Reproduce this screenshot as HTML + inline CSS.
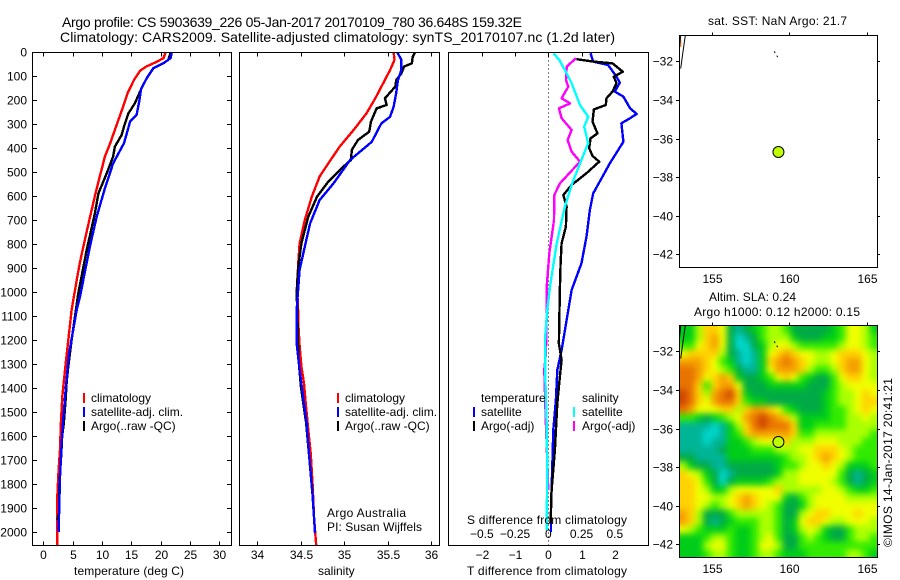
<!DOCTYPE html>
<html>
<head>
<meta charset="utf-8">
<title>Argo profile</title>
<style>
html,body{margin:0;padding:0;background:#fff;width:900px;height:580px;overflow:hidden}
svg{display:block}
text{font-family:"Liberation Sans",sans-serif;font-size:12px;fill:#000}
.title{font-size:14px}
</style>
</head>
<body>
<svg id="chart" xmlns="http://www.w3.org/2000/svg" width="900" height="580" viewBox="0 0 900 580">
  <defs>
    <clipPath id="clipT"><rect x="33" y="52" width="198" height="493"/></clipPath>
    <clipPath id="clipS"><rect x="240" y="52" width="199" height="493"/></clipPath>
    <clipPath id="clipD"><rect x="449" y="52" width="199" height="493"/></clipPath>
    <clipPath id="clipM1"><rect x="679.5" y="35.5" width="198" height="232"/></clipPath>
    <clipPath id="clipM2"><rect x="679.5" y="325.5" width="198" height="232"/></clipPath>
    <filter id="smooth" filterUnits="userSpaceOnUse" x="640" y="290" width="260" height="300" color-interpolation-filters="sRGB"><feGaussianBlur stdDeviation="3.2"/></filter>
  </defs>
  <text class="title" x="62" y="27" textLength="460">Argo profile: CS 5903639_226 05-Jan-2017 20170109_780 36.648S 159.32E</text>
  <text class="title" x="60" y="42" textLength="555">Climatology: CARS2009. Satellite-adjusted climatology: synTS_20170107.nc (1.2d later)</text>

  <g id="panelT"></g>
  <g id="panelS"></g>
  <g id="panelD"></g>
  <g id="map1"></g>
  <g id="map2"></g>

  <text x="74" y="575" textLength="110">temperature (deg C)</text>
  <text x="318" y="575">salinity</text>
  <text x="467" y="575" textLength="160">T difference from climatology</text>
  <text x="467" y="524" textLength="160">S difference from climatology</text>

  <text x="327" y="517" textLength="79">Argo Australia</text>
  <text x="327" y="531" textLength="95">PI: Susan Wijffels</text>

  <text x="708" y="25" textLength="139">sat. SST: NaN Argo: 21.7</text>
  <text x="709" y="301" textLength="87">Altim. SLA: 0.24</text>
  <text x="694" y="316" textLength="166">Argo h1000: 0.12 h2000: 0.15</text>
  <text transform="translate(892,547) rotate(-90)" textLength="169">©IMOS 14-Jan-2017 20:41:21</text>
</svg>
<script>
// ---------- tick labels ----------
var depthTicks = [0,100,200,300,400,500,600,700,800,900,1000,1100,1200,1300,1400,1500,1600,1700,1800,1900,2000];
var tempTicks = [0,5,10,15,20,25,30];
var salTicks = [34,34.5,35,35.5,36];
var diffTTicks = [-2,-1,0,1,2];
var diffSTicks = [-0.5,-0.25,0,0.25,0.5];
var lonTicks = [155,160,165];
var latTicks = [-32,-34,-36,-38,-40,-42];

// ---------- temperature profiles ----------
var climTempDepth = [0,25,40,60,78,115,170,228,304,380,436,512,600,690,780,875,950,992,1075,1200,1325,1436,1547,1658,1742,1853,2055];
var climTempValue = [20.85,20.5,19.4,17.6,16.5,15.5,14.4,13.6,12.5,11.4,10.5,9.7,8.8,7.95,7.1,6.25,5.7,5.4,4.83,4.26,3.7,3.24,3.0,2.84,2.6,2.39,2.39];
var satTempDepth = [0,26,47,68,110,155,200,262,290,380,464,568,686,811,1019,1075,1172,1255,1394,1533,1644,1769,2000];
var satTempValue = [21.9,21.7,20.45,18.75,17.6,16.65,16.4,15.9,14.8,13.75,11.9,10.5,9.1,7.95,6.25,5.7,5.0,4.4,3.86,3.4,3.1,2.84,2.6];
var argoTempDepth = [0,33,47,68,110,151,214,256,311,346,394,436,506,589,672,825,1005,1075,1200,1310,1367,1450,1547,1603,1658,1825,1922,1950];
var argoTempValue = [21.75,21.3,20.45,18.75,17.6,16.75,15.6,14.5,13.75,13.35,12.2,11.9,10.8,9.4,8.8,7.4,5.97,5.55,4.83,4.26,4.0,3.8,3.5,3.2,3.1,2.7,2.7,2.4];

// ---------- salinity profiles ----------
var climSalDepth = [0,33,75,130,193,255,325,394,464,519,603,700,797,880,1005,1033,1130,1225,1310,1380,1464,1575,1672,1811,1936,2055];
var climSalValue = [35.57,35.58,35.53,35.45,35.36,35.26,35.11,34.95,34.82,34.72,34.63,34.55,34.49,34.475,34.455,34.47,34.475,34.49,34.51,34.54,34.56,34.59,34.617,34.64,34.655,34.68];
var satSalDepth = [0,33,75,117,172,228,270,297,374,450,547,617,714,811,908,1019,1075,1214,1325,1436,1547,1686,1853,2005];
var satSalValue = [35.61,35.66,35.66,35.62,35.6,35.57,35.53,35.43,35.32,35.07,34.88,34.72,34.61,34.55,34.49,34.467,34.456,34.456,34.49,34.53,34.57,34.6,34.64,34.667];
var argoSalDepth = [0,19,47,61,89,117,144,193,221,235,290,332,367,408,450,485,540,603,686,797,894,1005,1117,1267,1394,1547,1686,1825,1908];
var argoSalValue = [35.82,35.79,35.78,35.69,35.66,35.6,35.59,35.47,35.49,35.375,35.31,35.29,35.16,35.09,35.08,34.97,34.82,34.69,34.59,34.51,34.475,34.456,34.465,34.475,34.505,34.565,34.6,34.635,34.65];

// ---------- difference profiles ----------
var satDTDepth = [5,40,54,103,128,165,186,235,258,276,297,374,464,589,658,769,880,992,1117,1242,1325,1450,1575,1728,1894,1999];
var satDTValue = [1.27,1.35,1.8,2.05,2.15,2.0,2.26,2.46,2.66,2.46,2.2,2.26,1.85,1.35,1.25,1.15,1.0,0.7,0.55,0.4,0.27,0.23,0.15,0.12,0.08,0.08];
var argoDTDepth = [30,40,47,82,103,130,165,193,221,239,290,339,360,401,433,457,505,554,596,644,728,797,880,985,1117,1214,1283,1394,1464,1658,1825,1964];
var argoDTValue = [0.85,1.35,1.93,2.24,1.97,2.05,1.93,1.75,1.73,1.37,1.33,1.48,1.27,1.23,1.33,1.53,1.15,0.7,0.45,0.55,0.53,0.4,0.37,0.35,0.33,0.32,0.4,0.32,0.27,0.2,0.1,0.07];
var satDSDepth = [5,33,89,130,221,270,311,380,464,554,644,797,978,1075,1200,1367,1547,1742,1992];
var satDSValue = [0.038,0.083,0.138,0.175,0.238,0.3,0.27,0.3,0.238,0.175,0.125,0.063,0.0125,-0.008,-0.025,-0.022,-0.0125,-0.0075,-0.0125];
var argoDSDepth = [26,61,117,144,193,214,235,276,325,367,415,457,547,596,700,839,985,1117,1255,1325,1547,1825];
var argoDSValue = [0.208,0.138,0.133,0.15,0.1,0.163,0.08,0.1,0.175,0.145,0.175,0.238,0.088,0.045,0.043,0.0075,-0.0125,-0.0125,-0.018,-0.03,-0.018,0];

// ---------- sea level anomaly grid (colour level, north to south) ----------
var slaGrid = [
[3,3,5,7,7,6,2,1,2,3,4,5,5,4,2,2,2,2,2,3,4,6,6,5,3],
[3,3,5,7,8,6,2,0,1,2,4,5,5,5,3,2,2,2,3,3,4,6,6,5,4],
[4,4,6,7,8,6,2,0,0,2,3,5,6,6,5,4,4,4,4,4,5,6,6,5,4],
[6,7,7,7,7,5,2,1,0,1,3,6,7,8,7,6,6,5,5,6,7,7,7,6,5],
[8,8,8,7,6,4,3,1,0,1,3,7,8,9,8,7,6,5,5,6,7,8,8,6,5],
[9,9,8,7,6,5,4,2,1,1,3,6,8,8,8,7,5,4,4,5,7,8,8,6,5],
[9,9,8,6,7,8,7,3,2,2,3,4,6,7,6,4,3,2,2,4,6,7,7,6,5],
[9,9,7,4,7,8,8,6,2,2,2,3,3,3,3,3,2,2,2,4,5,6,6,6,6],
[10,9,7,5,8,9,10,7,3,2,2,2,2,2,2,2,2,2,3,4,5,5,6,7,6],
[10,9,7,6,8,9,9,7,4,3,3,2,2,2,2,2,2,2,3,4,5,5,6,7,7],
[9,8,6,6,6,7,7,5,7,8,8,7,6,4,3,2,2,2,3,4,4,5,6,7,6],
[4,4,3,2,3,4,5,6,8,9,10,9,8,7,5,3,3,3,3,4,4,5,5,6,5],
[1,1,1,1,0,1,3,5,7,9,10,9,9,9,7,3,3,4,4,4,4,5,5,5,5],
[1,1,1,0,0,1,3,4,7,8,8,8,8,8,7,4,4,5,5,5,5,5,5,5,4],
[1,1,1,0,1,1,3,3,4,5,6,6,6,7,5,5,5,6,6,6,5,5,5,4,4],
[1,1,1,1,1,2,3,3,3,4,4,4,5,5,5,6,6,7,7,7,6,5,4,4,4],
[2,2,1,1,1,1,3,3,3,3,3,3,3,4,5,5,6,7,8,7,6,5,4,4,4],
[5,3,2,2,1,1,2,2,2,2,2,2,3,4,4,5,6,6,7,6,5,3,3,3,4],
[7,6,5,3,2,0,1,2,2,2,2,2,3,5,5,6,6,6,6,6,4,2,1,2,3],
[7,7,6,4,2,0,2,3,3,3,3,4,5,5,5,6,6,6,6,5,4,2,1,2,3],
[7,7,6,5,3,3,5,6,6,6,6,6,7,5,5,5,5,5,6,6,5,4,3,3,4],
[7,7,6,6,5,5,6,7,8,7,6,6,6,3,2,4,5,6,6,6,6,5,5,5,5],
[7,7,6,5,4,5,6,7,8,7,6,5,4,2,2,3,5,6,6,6,6,6,6,6,6],
[8,7,5,2,2,2,4,5,5,5,5,5,4,2,2,5,6,7,7,6,6,6,7,6,6],
[8,7,5,2,1,2,3,4,4,4,5,5,4,2,3,6,7,7,6,5,5,6,6,6,5],
[6,5,4,3,3,3,4,3,3,4,5,5,4,2,3,5,6,5,3,2,2,4,5,5,5],
[3,3,3,4,5,5,4,3,3,4,5,6,4,2,2,4,5,4,3,2,2,4,5,5,4],
[3,3,3,5,6,6,4,3,3,4,6,6,5,2,2,4,4,4,4,4,4,4,4,4,4],
[3,3,3,4,5,5,4,3,3,4,5,5,4,3,3,3,4,4,4,4,4,5,5,4,3]
];

// ---------- map features ----------
var coastOuterLon = [153.3,153.15,153.0];
var coastOuterLat = [-30.67,-31.5,-32.38];
var coastInnerLon = [153.0,152.92];
var coastInnerLat = [-30.67,-31.35];
var islandLon = [159.03,159.08,159.25];
var islandLat = [-31.48,-31.56,-31.78];
var floatLon = [159.3];
var floatLat = [-36.648];

// ---------- helpers ----------
var NS = 'http://www.w3.org/2000/svg';
function make(tag, parent, name) {
  var el = document.createElementNS(NS, tag);
  
  
  parent.appendChild(el);
  return el;
}
function setAll(el, props) {
  for (var k in props) el.setAttribute(k, props[k]);
  return el;
}
function label(parent, name, x, y, str, anchor) {
  var t = make('text', parent, name);
  setAll(t, {x: x, y: y, 'text-anchor': anchor || 'start'});
  t.textContent = str;
  return t;
}
function segment(parent, name, x1, y1, x2, y2, width, color) {
  var l = make('line', parent, name);
  setAll(l, {x1: x1, y1: y1, x2: x2, y2: y2, stroke: color || '#000', 'stroke-width': width || 1, 'shape-rendering': 'crispEdges'});
  return l;
}
function frame(parent, name, x, y, w, h) {
  var r = make('rect', parent, name);
  setAll(r, {x: x, y: y, width: w, height: h, fill: 'none', stroke: '#000', 'stroke-width': 1, 'shape-rendering': 'crispEdges'});
  return r;
}
function profile(parent, name, depths, values, xFn, color, clip) {
  var p = make('polyline', parent, name);
  var pts = depths.map(function (d, i) { return xFn(values[i]).toFixed(1) + ',' + yDepth(d).toFixed(1); }).join(' ');
  setAll(p, {points: pts, fill: 'none', stroke: color, 'stroke-width': 2.4, 'stroke-linejoin': 'round', 'shape-rendering': 'crispEdges', 'clip-path': 'url(#' + clip + ')'});
  return p;
}
function legendRow(parent, name, markX, textX, base, color, str) {
  segment(parent, name + '-swatch', markX, base - 9, markX, base + 1, 2, color);
  label(parent, name + '-label', textX, base, str);
}

// ---------- axes ----------
var TOP = 52.5, BOTTOM = 545.5;
function yDepth(d) { return 52 + d * 0.24; }
function xTemp(t) { return 43.3 + t * 5.867; }
function xSal(s) { return 257 + (s - 34) * 87; }
function xDT(t) { return 548.3 + t * 33.25; }
function xDS(s) { return 548.3 + s * 133; }
function xLon(l) { return 711.7 + (l - 155) * 15.52; }
function yLat1(l) { return 61.3 + (-32 - l) * 19.3; }
function yLat2(l) { return 351.3 + (-32 - l) * 19.3; }

// ---------- temperature panel ----------
var gT = document.getElementById('panelT');
depthTicks.forEach(function (d) {
  var y = Math.round(yDepth(d)) + 0.5;
  label(gT, 'depth-tick-label', 27, y + 4, String(d), 'end');
  if (d > 0) {
    segment(gT, 'depth-tick-left', 33, y, 37, y);
    segment(gT, 'depth-tick-right', 227, y, 231, y);
  }
});
tempTicks.forEach(function (t) {
  var x = Math.round(xTemp(t)) + 0.5;
  segment(gT, 'temperature-tick-top', x, TOP, x, TOP + 4);
  segment(gT, 'temperature-tick-bottom', x, BOTTOM - 4, x, BOTTOM);
  label(gT, 'temperature-tick-label', x, 559, String(t), 'middle');
});
profile(gT, 'climatology-temperature-line', climTempDepth, climTempValue, xTemp, '#ff0000', 'clipT');
profile(gT, 'argo-temperature-line', argoTempDepth, argoTempValue, xTemp, '#000000', 'clipT');
profile(gT, 'satellite-temperature-line', satTempDepth, satTempValue, xTemp, '#0000ff', 'clipT');
frame(gT, 'temperature-plot-frame', 32.5, TOP, 199, 493);
legendRow(gT, 'legend-climatology', 84, 91, 402, '#ff0000', 'climatology');
legendRow(gT, 'legend-satellite-adj', 84, 91, 416, '#0000ff', 'satellite-adj. clim.');
legendRow(gT, 'legend-argo', 84, 91, 430, '#000000', 'Argo(..raw -QC)');

// ---------- salinity panel ----------
var gS = document.getElementById('panelS');
salTicks.forEach(function (s) {
  var x = Math.round(xSal(s)) + 0.5;
  segment(gS, 'salinity-tick-top', x, TOP, x, TOP + 4);
  segment(gS, 'salinity-tick-bottom', x, BOTTOM - 4, x, BOTTOM);
  label(gS, 'salinity-tick-label', x, 559, String(s), 'middle');
});
profile(gS, 'climatology-salinity-line', climSalDepth, climSalValue, xSal, '#ff0000', 'clipS');
profile(gS, 'argo-salinity-line', argoSalDepth, argoSalValue, xSal, '#000000', 'clipS');
profile(gS, 'satellite-salinity-line', satSalDepth, satSalValue, xSal, '#0000ff', 'clipS');
frame(gS, 'salinity-plot-frame', 239.5, TOP, 200, 493);
legendRow(gS, 'legend-climatology', 338, 345, 402, '#ff0000', 'climatology');
legendRow(gS, 'legend-satellite-adj', 338, 345, 416, '#0000ff', 'satellite-adj. clim.');
legendRow(gS, 'legend-argo', 338, 345, 430, '#000000', 'Argo(..raw -QC)');

// ---------- difference panel ----------
var gD = document.getElementById('panelD');
diffTTicks.forEach(function (t) {
  var x = Math.round(xDT(t)) + 0.5;
  segment(gD, 't-difference-tick-top', x, TOP, x, TOP + 4);
  label(gD, 't-difference-tick-label', x, 559, String(t).replace('-', '\u2212'), 'middle');
});
diffSTicks.forEach(function (s) {
  label(gD, 's-difference-tick-label', xDS(s), 538, String(s).replace('-', '\u2212'), 'middle');
});
var zeroLine = segment(gD, 'zero-difference-line', 548.5, TOP, 548.5, BOTTOM);
zeroLine.setAttribute('stroke-dasharray', '1 3');
profile(gD, 'satellite-t-difference-line', satDTDepth, satDTValue, xDT, '#0000ff', 'clipD');
profile(gD, 'argo-t-difference-line', argoDTDepth, argoDTValue, xDT, '#000000', 'clipD');
profile(gD, 'argo-s-difference-line', argoDSDepth, argoDSValue, xDS, '#ff00ff', 'clipD');
profile(gD, 'satellite-s-difference-line', satDSDepth, satDSValue, xDS, '#00ffff', 'clipD');
frame(gD, 'difference-plot-frame', 448.5, TOP, 200, 493);
label(gD, 'legend-temperature-heading', 481, 402, 'temperature');
legendRow(gD, 'legend-t-satellite', 474, 481, 416, '#0000ff', 'satellite');
legendRow(gD, 'legend-t-argo', 474, 481, 430, '#000000', 'Argo(-adj)');
label(gD, 'legend-salinity-heading', 582, 402, 'salinity');
legendRow(gD, 'legend-s-satellite', 574, 582, 416, '#00ffff', 'satellite');
legendRow(gD, 'legend-s-argo', 574, 582, 430, '#ff00ff', 'Argo(-adj)');

// ---------- maps ----------
var LON_MIN = 152.9, LON_MAX = 165.7, LAT_MAX = -30.67, LAT_MIN = -42.69;
var colorStops = [[0,215,205],[0,180,150],[0,170,70],[0,205,25],[50,235,0],[170,255,0],[240,255,0],[255,210,0],[245,160,0],[232,115,0],[205,70,0]];
function levelColor(v) {
  var i = Math.max(0, Math.min(colorStops.length - 1, Math.round(v)));
  var c = colorStops[i];
  return 'rgb(' + c[0] + ',' + c[1] + ',' + c[2] + ')';
}
function mapFrame(g, prefix, yLat, labelBase) {
  var yTop = Math.floor(yLat(LAT_MAX)) + 0.5;
  lonTicks.forEach(function (l) {
    var x = Math.round(xLon(l)) + 0.5;
    segment(g, prefix + '-lon-tick', x, yTop - 3, x, yTop);
    label(g, prefix + '-lon-tick-label', x, labelBase, String(l), 'middle');
  });
  latTicks.forEach(function (l) {
    var y = Math.round(yLat(l)) + 0.5;
    segment(g, prefix + '-lat-tick-left', 676, y, 679.5, y);
    segment(g, prefix + '-lat-tick-right', 877.5, y, 880, y);
    label(g, prefix + '-lat-tick-label', 673, y + 4, String(l).replace('-', '\u2212'), 'end');
  });
  frame(g, prefix + '-frame', 679.5, yTop, 198, 232);
}
function mapFeatures(g, prefix, yLat, clip) {
  function line(name, lons, lats, dash) {
    var p = make('polyline', g, name);
    var pts = lons.map(function (l, i) { return xLon(l).toFixed(1) + ',' + yLat(lats[i]).toFixed(1); }).join(' ');
    setAll(p, {points: pts, fill: 'none', stroke: '#000', 'stroke-width': 1, 'clip-path': 'url(#' + clip + ')'});
    if (dash) p.setAttribute('stroke-dasharray', dash);
  }
  line(prefix + '-coast-outer', coastOuterLon, coastOuterLat);
  line(prefix + '-coast-inner', coastInnerLon, coastInnerLat);
  line(prefix + '-island', islandLon, islandLat, '2 3');
  var c = make('circle', g, prefix + '-float-position');
  setAll(c, {cx: xLon(floatLon[0]), cy: yLat(floatLat[0]) + 1, r: 5.5, fill: '#bfff00', stroke: '#000', 'stroke-width': 1});
}

var gM1 = document.getElementById('map1');
var sliver = make('rect', gM1, 'sst-map-warm-sliver');
setAll(sliver, {x: 679.5, y: yLat1(-30.9), width: 2, height: 7, fill: '#f5a060'});
mapFeatures(gM1, 'sst-map', yLat1, 'clipM1');
mapFrame(gM1, 'sst-map', yLat1, 283);

var gM2 = document.getElementById('map2');
var clipWrap = make('g', gM2, 'sla-field-clip');
clipWrap.setAttribute('clip-path', 'url(#clipM2)');
var field = make('g', clipWrap, 'sla-field');
field.setAttribute('filter', 'url(#smooth)');
var nRows = slaGrid.length, nCols = slaGrid[0].length;
var dLon = (LON_MAX - LON_MIN) / nCols, dLat = (LAT_MAX - LAT_MIN) / nRows;
for (var r = -2; r < nRows + 2; r++) {
  for (var c = -2; c < nCols + 2; c++) {
    var rr = Math.max(0, Math.min(nRows - 1, r));
    var cc = Math.max(0, Math.min(nCols - 1, c));
    var cell = make('rect', field, 'sla-cell');
    var x0 = xLon(LON_MIN + c * dLon), x1 = xLon(LON_MIN + (c + 1) * dLon);
    var y0 = yLat2(LAT_MAX - r * dLat), y1 = yLat2(LAT_MAX - (r + 1) * dLat);
    setAll(cell, {x: x0.toFixed(2), y: y0.toFixed(2), width: (x1 - x0 + 0.6).toFixed(2), height: (y1 - y0 + 0.6).toFixed(2), fill: levelColor(slaGrid[rr][cc])});
  }
}
mapFeatures(gM2, 'sla-map', yLat2, 'clipM2');
mapFrame(gM2, 'sla-map', yLat2, 573);
</script>
</body>
</html>
